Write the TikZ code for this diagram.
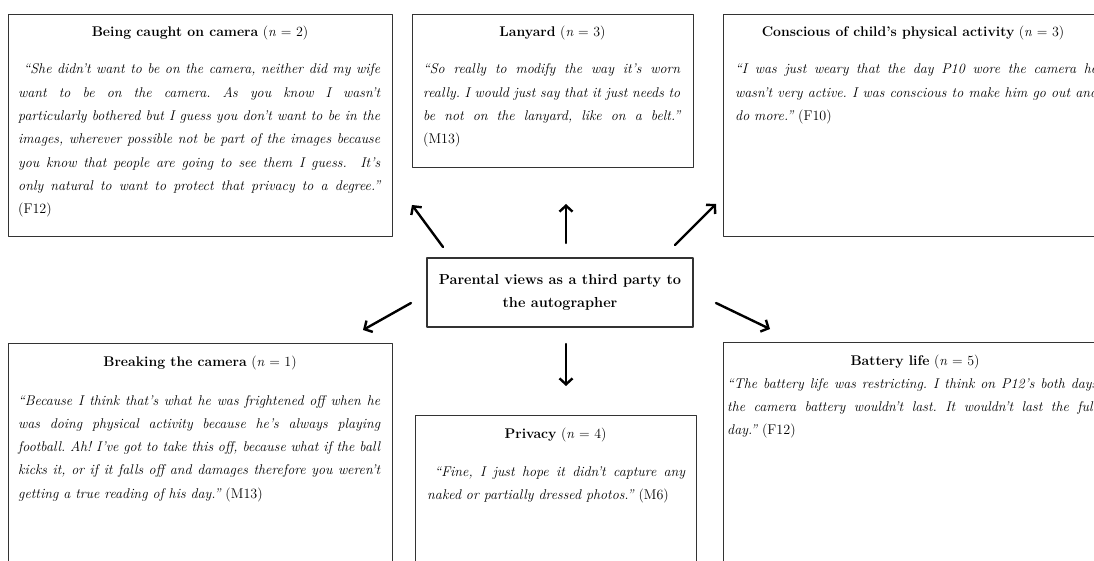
\documentclass[tikz,border=0pt]{standalone}
\usepackage{tikz}
\usetikzlibrary{arrows.meta,positioning}
\definecolor{qqgray}{rgb}{0.2,0.2,0.2}
\tikzset{
themebox/.style={draw=qqgray,line width=1.3pt,anchor=north west,inner sep=0pt},
heading/.style={anchor=base,inner sep=0pt,font=\fontsize{14}{17}\selectfont},
quote/.style={anchor=base west,inner sep=0pt,align=justify,font=\fontsize{14.1}{23.3}\selectfont\itshape\frenchspacing},
arr/.style={line width=2.4pt,-{Straight Barb[length=6pt,width=13pt]}}
}
\begin{document}
\begin{tikzpicture}[line cap=round,line join=round,x=1pt,y=-1pt]
\useasboundingbox (0,0) rectangle (1094,561);
\clip (0,0) rectangle (1094,561);
\node[themebox,minimum width=384pt,minimum height=222pt] (caught) at (8,14) {};
\node[heading] (caughtT) at (200,37) {\textbf{Being caught on camera} (\textit{n} = 2)};
\node[quote,text width=362pt] (caughtQ) at (18,74) {\ ``She didn't want to be on the camera, neither did my wife\linebreak want to be on the camera. As you know I wasn't\linebreak particularly bothered but I guess you don't want to be in the\linebreak images, wherever possible not be part of the images because\linebreak you know that people are going to see them I guess.\ \ It's\linebreak only natural to want to protect that privacy to a degree.''\linebreak {\upshape(F12)}};
\node[themebox,minimum width=281pt,minimum height=153pt] (lanyard) at (412,14) {};
\node[heading] (lanyardT) at (552.5,37) {\textbf{Lanyard} (\textit{n} = 3)};
\node[quote,text width=257pt] (lanyardQ) at (423,74) {``So really to modify the way it's worn\linebreak really. I would just say that it just needs to\linebreak be not on the lanyard, like on a belt.''\linebreak {\upshape(M13)}};
\node[themebox,minimum width=384pt,minimum height=222pt] (active) at (723,14) {};
\node[heading] (activeT) at (913,37) {\textbf{Conscious of child's physical activity} (\textit{n} = 3)};
\node[quote,text width=362pt] (activeQ) at (735,74) {``I was just weary that the day P10 wore the camera he\linebreak wasn't very active. I was conscious to make him go out and\linebreak do more.'' {\upshape(F10)}};
\node[themebox,anchor=center,minimum width=266pt,minimum height=69pt,align=center,font=\fontsize{14.5}{23}\selectfont\bfseries] (centre) at (560,292.5) {Parental views as a third party to\\the autographer};
\node[themebox,minimum width=384pt,minimum height=240pt] (breaking) at (8,343) {};
\node[heading] (breakingT) at (200,366) {\textbf{Breaking the camera} (\textit{n} = 1)};
\node[quote,text width=362pt] (breakingQ) at (18,405) {``Because I think that's what he was frightened off when he\linebreak was doing physical activity because he's always playing\linebreak football. Ah! I've got to take this off, because what if the ball\linebreak kicks it, or if it falls off and damages therefore you weren't\linebreak getting a true reading of his day.'' {\upshape(M13)}};
\node[themebox,minimum width=281pt,minimum height=180pt] (privacy) at (415,415) {};
\node[heading] (privacyT) at (555.5,438) {\textbf{Privacy} (\textit{n} = 4)};
\node[quote,text width=258pt] (privacyQ) at (427,476) {\ ``Fine, I just hope it didn't capture any\linebreak naked or partially dressed photos.'' {\upshape(M6)}};
\node[themebox,minimum width=384pt,minimum height=240pt] (battery) at (723,342) {};
\node[heading] (batteryT) at (915,365) {\textbf{Battery life} (\textit{n} = 5)};
\node[quote,text width=370pt] (batteryQ) at (727,388) {``The battery life was restricting. I think on P12's both days\linebreak the camera battery wouldn't last. It wouldn't last the full\linebreak day.'' {\upshape(F12)}};
\coordinate (t1) at (443,247); \coordinate (h1) at (412,205);
\coordinate (t2) at (566,243); \coordinate (h2) at (566,204);
\coordinate (t3) at (675,245); \coordinate (h3) at (716,204);
\coordinate (t4) at (411,303); \coordinate (h4) at (363,330);
\coordinate (t5) at (566,344); \coordinate (h5) at (566,386);
\coordinate (t6) at (716,303); \coordinate (h6) at (770,329);
\draw[arr] (t1) -- (h1);
\draw[arr] (t2) -- (h2);
\draw[arr] (t3) -- (h3);
\draw[arr] (t4) -- (h4);
\draw[arr] (t5) -- (h5);
\draw[arr] (t6) -- (h6);
\end{tikzpicture}
\end{document}
